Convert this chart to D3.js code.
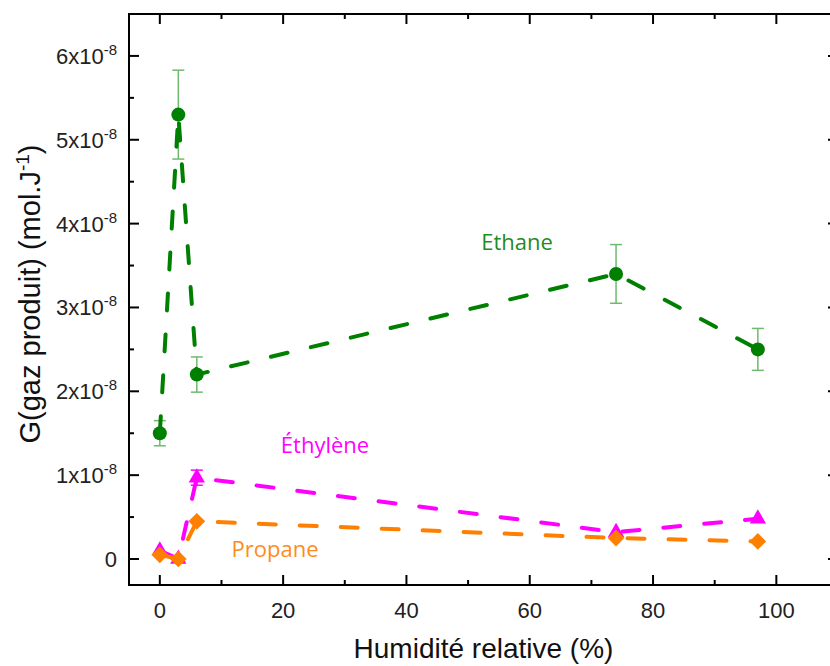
<!DOCTYPE html>
<html>
<head>
<meta charset="utf-8">
<script src="https://cdn.jsdelivr.net/npm/d3@7"></script>
<style>
  html, body { margin: 0; padding: 0; background: #fff; }
  svg { display: block; }
</style>
</head>
<body>
<svg id="chart" width="830" height="666"></svg>
<script>
// ---- data ----
const humidity = [0, 3, 6, 74, 97];
const ethane = [1.5e-8, 5.3e-8, 2.2e-8, 3.4e-8, 2.5e-8];
const ethaneErr = [0.15e-8, 0.53e-8, 0.21e-8, 0.35e-8, 0.25e-8];
const ethylene = [0.1e-8, 0.0, 0.97e-8, 0.32e-8, 0.48e-8];
const ethyleneErr = [0, 0, 0.09e-8, 0, 0];
const propane = [0.05e-8, 0.0, 0.45e-8, 0.25e-8, 0.21e-8];
const xTicks = [0, 20, 40, 60, 80, 100];
const xMinorTicks = [10, 30, 50, 70, 90];
const yTicks = [0, 1e-8, 2e-8, 3e-8, 4e-8, 5e-8, 6e-8];
const yMinorTicks = [0.5e-8, 1.5e-8, 2.5e-8, 3.5e-8, 4.5e-8, 5.5e-8, 6.5e-8];
const xTitle = "Humidité relative (%)";
const seriesNames = ["Ethane", "Éthylène", "Propane"];

// ---- layout ----
const svg = d3.select("#chart");
const x = d3.scaleLinear().domain([-5, 110]).range([129, 838]);
const y = d3.scaleLinear().domain([-0.31e-8, 6.5e-8]).range([585, 14]);
const X0 = 129, X1 = 838, Y0 = 585, Y1 = 14;

const tickFont = "'Liberation Sans', Arial, sans-serif";
const labelFont = "'Open Sans', 'Noto Sans', sans-serif";

// ---- series ----
const green = "#008000", greenErr = "#6fba6f", magenta = "#ff00ff", orange = "#ff8000";

function drawSeries(vals, errs, color, errColor, symbolFn) {
  const pts = humidity.map((h, i) => ({ h, v: vals[i], e: errs ? errs[i] : 0 }));
  // error bars
  const eb = svg.append("g");
  pts.filter(d => d.e > 0).forEach(d => {
    const g = eb.append("g").attr("stroke", errColor).attr("stroke-width", 1.5);
    g.append("line").attr("x1", x(d.h)).attr("x2", x(d.h)).attr("y1", y(d.v - d.e)).attr("y2", y(d.v + d.e));
    g.append("line").attr("x1", x(d.h) - 6).attr("x2", x(d.h) + 6).attr("y1", y(d.v + d.e)).attr("y2", y(d.v + d.e));
    g.append("line").attr("x1", x(d.h) - 6).attr("x2", x(d.h) + 6).attr("y1", y(d.v - d.e)).attr("y2", y(d.v - d.e));
  });
  // dashed line
  const line = d3.line().x(d => x(d.h)).y(d => y(d.v));
  svg.append("path").datum(pts).attr("d", line)
    .attr("fill", "none").attr("stroke", color).attr("stroke-width", 4)
    .attr("stroke-dasharray", "17,24").attr("stroke-linecap", "round");
  // markers
  svg.append("g").selectAll("path").data(pts).join("path")
    .attr("transform", d => symbolFn.rot ? `translate(${x(d.h)},${y(d.v)}) rotate(45)` : `translate(${x(d.h)},${y(d.v)})`)
    .attr("d", symbolFn.gen)
    .attr("fill", color);
}

drawSeries(ethane, ethaneErr, green, greenErr, { gen: d3.symbol().type(d3.symbolCircle).size(Math.PI * 49)() });
drawSeries(ethylene, ethyleneErr, magenta, magenta, { gen: d3.symbol().type(d3.symbolTriangle).size(115)() });
drawSeries(propane, null, orange, orange, { gen: d3.symbol().type(d3.symbolSquare).size(140)(), rot: true });

// ---- axes (inward ticks) ----
const axG = svg.append("g").attr("stroke", "#000");
function ticksX(vals, len, yPos, dir) {
  vals.forEach(v => axG.append("line").attr("x1", x(v)).attr("x2", x(v)).attr("y1", yPos).attr("y2", yPos + dir * len).attr("stroke-width", 2));
}
function ticksY(vals, len, xPos, dir) {
  vals.forEach(v => axG.append("line").attr("y1", y(v)).attr("y2", y(v)).attr("x1", xPos).attr("x2", xPos + dir * len).attr("stroke-width", 2));
}
ticksX(xTicks, 10, Y0, -1); ticksX(xMinorTicks, 5, Y0, -1);
ticksX(xTicks, 10, Y1, 1); ticksX(xMinorTicks, 5, Y1, 1);
ticksY(yTicks, 10, X0, 1); ticksY(yMinorTicks, 5, X0, 1);
ticksY(yTicks, 10, X1, -1); ticksY(yMinorTicks, 5, X1, -1);
svg.append("rect").attr("x", X0).attr("y", Y1).attr("width", X1 - X0).attr("height", Y0 - Y1)
  .attr("fill", "none").attr("stroke", "#000").attr("stroke-width", 2);

// x tick labels
svg.append("g").selectAll("text").data(xTicks).join("text")
  .attr("x", d => x(d)).attr("y", 618).attr("text-anchor", "middle")
  .attr("font-family", tickFont).attr("font-size", 22).attr("fill", "#222")
  .text(d => d);

// y tick labels
const yl = svg.append("g").selectAll("text").data(yTicks).join("text")
  .attr("x", 117).attr("y", d => y(d) + 8).attr("text-anchor", "end")
  .attr("font-family", tickFont).attr("font-size", 22).attr("fill", "#222");
yl.each(function(d) {
  const t = d3.select(this);
  if (d === 0) { t.text("0"); return; }
  t.append("tspan").text(Math.round(d / 1e-8) + "x10");
  t.append("tspan").attr("dy", -9).attr("font-size", 15).text("-8");
});

// axis titles
svg.append("text").attr("x", (X0 + X1) / 2).attr("y", 658).attr("text-anchor", "middle")
  .attr("font-family", tickFont).attr("font-size", 28).attr("fill", "#111").text(xTitle);
const yt = svg.append("text").attr("transform", "translate(40,294) rotate(-90)").attr("text-anchor", "middle")
  .attr("font-family", tickFont).attr("font-size", 29).attr("fill", "#111");
yt.append("tspan").text("G(gaz produit) (mol.J");
yt.append("tspan").attr("dy", -11).attr("font-size", 19).text("-1");
yt.append("tspan").attr("dy", 11).text(")");

// series labels
svg.append("text").attr("x", 517).attr("y", 250).attr("text-anchor", "middle")
  .attr("font-family", labelFont).attr("font-size", 22).attr("fill", "#1f8c1f").text(seriesNames[0]);
svg.append("text").attr("x", 325).attr("y", 453).attr("text-anchor", "middle")
  .attr("font-family", labelFont).attr("font-size", 22).attr("fill", magenta).text(seriesNames[1]);
svg.append("text").attr("x", 275).attr("y", 557).attr("text-anchor", "middle")
  .attr("font-family", labelFont).attr("font-size", 22).attr("fill", "#ff8c1a").text(seriesNames[2]);
</script>
</body>
</html>
